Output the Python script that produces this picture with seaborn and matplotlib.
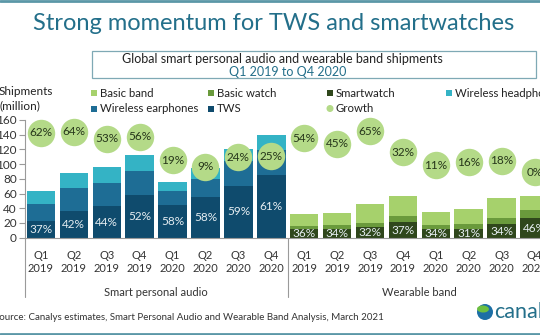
import matplotlib
matplotlib.use("Agg")
import matplotlib.pyplot as plt
import seaborn as sns
import numpy as np
import pandas as pd
from matplotlib.patches import Rectangle, Ellipse
from matplotlib.lines import Line2D

# ---- data -------------------------------------------------------------
quarters = ["Q1\n2019", "Q2\n2019", "Q3\n2019", "Q4\n2019",
            "Q1\n2020", "Q2\n2020", "Q3\n2020", "Q4\n2020"]
groups = ["Smart personal audio", "Wearable band"]

# Smart personal audio (million units)
tws = [23.3, 36.7, 42.5, 58.4, 44.1, 55.1, 70.8, 85.2]
wireless_earphones = [22.7, 30.3, 32.3, 31.8, 19.4, 24.9, 33.2, 33.8]
wireless_headphones = [17.0, 20.5, 21.7, 22.2, 12.5, 15.0, 16.0, 20.6]
audio_growth = [62, 64, 53, 56, 19, 9, 24, 25]

# Wearable band (million units)
smartwatch = [11.4, 11.3, 14.5, 21.1, 12.0, 12.1, 18.2, 26.3]
basic_watch = [4.9, 6.0, 5.9, 8.0, 5.3, 6.1, 8.2, 11.4]
basic_band = [15.5, 15.9, 25.0, 28.0, 18.1, 20.8, 27.2, 19.4]
wearable_growth = [54, 45, 65, 32, 11, 16, 18, 0]

yticks = [0, 20, 40, 60, 80, 100, 120, 140, 160]

# ---- colours ----------------------------------------------------------
C_TWS = "#0f4b6d"
C_EAR = "#1e6d95"
C_HEAD = "#34b3c5"
C_SW = "#2f471c"
C_BW = "#6a9a3c"
C_BB = "#a6d16c"
C_GROWTH = "#b4da88"
C_TEAL = "#236f8a"
C_LINE = "#5b97a7"

W, H = 540, 335
sns.set_theme(style="ticks")
plt.rcParams["font.family"] = ["Lato", "DejaVu Sans"]

fig = plt.figure(figsize=(W / 100, H / 100), dpi=100)
fig.patch.set_facecolor("white")


def fx(x):
    return x / W


def fy(y):
    return 1 - y / H


# plot area in pixel coordinates (extends past the right edge)
L, R, T, B = 24.5, 551.0, 120.0, 237.7
ax = fig.add_axes([fx(L), fy(B), (R - L) / W, (B - T) / H])
px_per_unit = (B - T) / 160

n = len(quarters)
audio_x = np.arange(n)
wear_x = np.arange(n, 2 * n)

df_audio = pd.DataFrame({
    "x": audio_x,
    "tws": tws,
    "ear": wireless_earphones,
    "head": wireless_headphones,
})
df_audio["ear_top"] = df_audio["tws"] + df_audio["ear"]
df_audio["total"] = df_audio["ear_top"] + df_audio["head"]

df_wear = pd.DataFrame({
    "x": wear_x,
    "sw": smartwatch,
    "bw": basic_watch,
    "bb": basic_band,
})
df_wear["bw_top"] = df_wear["sw"] + df_wear["bw"]
df_wear["total"] = df_wear["bw_top"] + df_wear["bb"]

bw = 0.866
common = dict(native_scale=True, width=bw, saturation=1, errorbar=None,
              linewidth=0, ax=ax)
# stacked layers: tallest first, then the lower segments on top of it
sns.barplot(data=df_audio, x="x", y="total", color=C_HEAD, **common)
sns.barplot(data=df_audio, x="x", y="ear_top", color=C_EAR, **common)
sns.barplot(data=df_audio, x="x", y="tws", color=C_TWS, **common)
sns.barplot(data=df_wear, x="x", y="total", color=C_BB, **common)
sns.barplot(data=df_wear, x="x", y="bw_top", color=C_BW, **common)
sns.barplot(data=df_wear, x="x", y="sw", color=C_SW, **common)

ax.set_xlim(-0.5, 2 * n - 0.5)
ax.set_ylim(0, 160)
ax.set_xlabel("")
ax.set_ylabel("")
ax.set_yticks(yticks)
ax.set_yticklabels([str(v) for v in yticks])
ax.set_xticks(np.arange(2 * n))
ax.set_xticklabels(quarters * 2)
ax.tick_params(axis="y", length=4, width=0.8, color="#9a9a9a", pad=1.5,
               labelsize=8.5, labelcolor="#333333")
ax.tick_params(axis="x", length=0, pad=9, labelsize=8, labelcolor="#333333")
for s in ["top", "right"]:
    ax.spines[s].set_visible(False)
for s in ["left", "bottom"]:
    ax.spines[s].set_color("#9a9a9a")
    ax.spines[s].set_linewidth(0.8)

# share labels inside the bottom segment
for _, r in df_audio.iterrows():
    ax.text(r["x"], r["tws"] / 2, f"{round(100 * r['tws'] / r['total'])}%",
            ha="center", va="center", fontsize=8.5, color="#e6eef2")
for _, r in df_wear.iterrows():
    ax.text(r["x"], r["sw"] / 2 - 0.5, f"{round(100 * r['sw'] / r['total'])}%",
            ha="center", va="center", fontsize=8.5, color="#e6eef2")

# group separators and group names below the axis
y_low = (B - 297) / px_per_unit
y_grp = (B - 292) / px_per_unit
ax.add_line(Line2D([-0.5, -0.5], [0, y_low], color="#9a9a9a", lw=0.8,
                   clip_on=False))
ax.add_line(Line2D([n - 0.5, n - 0.5], [0, y_low], color="#9a9a9a", lw=0.8,
                   clip_on=False))
ax.text((n - 1) / 2, y_grp, groups[0], ha="center", va="center",
        fontsize=8, color="#333333")
ax.text(n + (n - 1) / 2, y_grp, groups[1], ha="center", va="center",
        fontsize=8, color="#333333")

# growth bubbles on a secondary scale
ax2 = ax.twinx()
ax2.set_ylim(-102.7, 82.4)
ax2.axis("off")
growth = audio_growth + wearable_growth
gx = np.concatenate([audio_x, wear_x])
sns.scatterplot(x=gx, y=growth, s=390, color=C_GROWTH, linewidth=0,
                ax=ax2, clip_on=False, legend=False)
for xi, g in zip(gx, growth):
    ax2.text(xi, g, f"{g}%", ha="center", va="center", fontsize=8.5,
             color="#26361a")

# ---- titles, box, legend ---------------------------------------------
fig.add_artist(Line2D([0, 1], [fy(1), fy(1)], color=C_LINE, lw=2))
fig.add_artist(Line2D([0, 1], [fy(333.5), fy(333.5)], color=C_LINE, lw=2))
fig.text(fx(274), fy(24), "Strong momentum for TWS and smartwatches",
         ha="center", va="center", fontsize=17, color=C_TEAL)

fig.add_artist(Rectangle((fx(92), fy(78)), (536 - 92) / W, (78 - 51) / H,
                         transform=fig.transFigure, fill=False,
                         edgecolor="#7fa9b5", lw=0.9))
fig.text(fx(282), fy(59), "Global smart personal audio and wearable band shipments",
         ha="center", va="center", fontsize=9, color="#222222")
fig.text(fx(288), fy(72), "Q1 2019 to Q4 2020", ha="center", va="center",
         fontsize=9, color=C_TEAL)

fig.text(fx(-1), fy(92), "Shipments", ha="left", va="center", fontsize=8.5,
         color="#222222")
fig.text(fx(-1), fy(106), "(million)", ha="left", va="center", fontsize=8.5,
         color="#222222")

legend_items = [
    ("Basic band", C_BB, 94, 93.5, "s"),
    ("Basic watch", C_BW, 211, 93.5, "s"),
    ("Smartwatch", C_SW, 330, 93.5, "s"),
    ("Wireless headphones", C_HEAD, 449, 93.5, "s"),
    ("Wireless earphones", C_EAR, 94, 108.5, "s"),
    ("TWS", C_TWS, 211, 108.5, "s"),
    ("Growth", C_GROWTH, 330, 108.5, "o"),
]
for label, col, lx, ly, mk in legend_items:
    if mk == "s":
        fig.add_artist(Rectangle((fx(lx - 3), fy(ly + 3)), 6 / W, 6 / H,
                                 transform=fig.transFigure, color=col, lw=0))
    else:
        fig.add_artist(Ellipse((fx(lx), fy(ly)), 7 / W, 7 / H,
                               transform=fig.transFigure, color=col, lw=0))
    fig.text(fx(lx + 6), fy(ly), label, ha="left", va="center", fontsize=8.2,
             color="#222222")

fig.text(fx(-6), fy(317), "Source: Canalys estimates, Smart Personal Audio and "
         "Wearable Band Analysis, March 2021", ha="left", va="center",
         fontsize=7, color="#333333")

# logo
fig.add_artist(Ellipse((fx(485), fy(312)), 16 / W, 16 / H,
                       transform=fig.transFigure, color="#1d6fa5", lw=0))
fig.add_artist(Ellipse((fx(483), fy(309)), 12 / W, 7 / H, angle=-20,
                       transform=fig.transFigure, color="#6cbf3f", lw=0))
fig.text(fx(494), fy(312), "canalys", ha="left", va="center", fontsize=15.5,
         color=C_TEAL)

fig.savefig("out.png", dpi=100)
